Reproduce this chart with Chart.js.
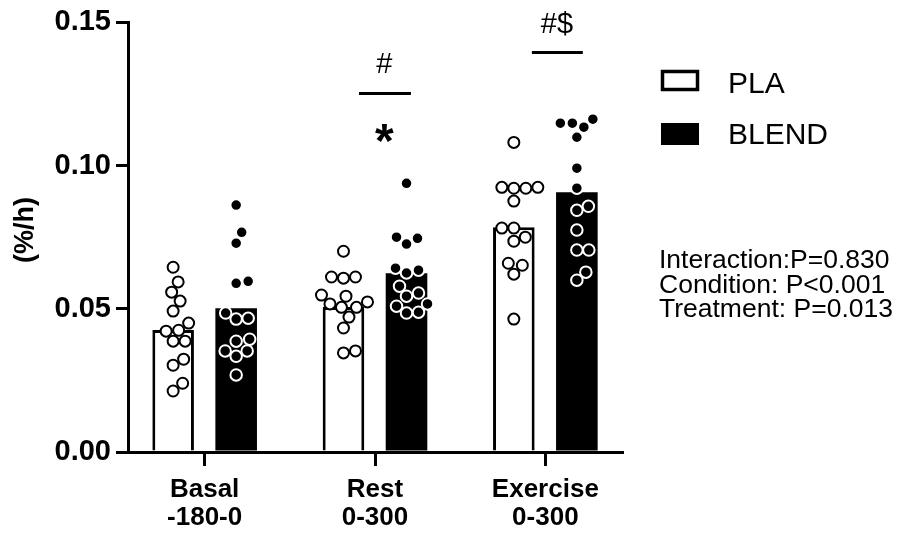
<!DOCTYPE html>
<html>
<head>
<meta charset="utf-8">
<script src="https://cdn.jsdelivr.net/npm/chart.js@4.4.0/dist/chart.umd.min.js"></script>
<style>
    html, body { margin: 0; padding: 0; background: #ffffff; }
    #wrap { width: 904px; height: 533px; position: relative; }
</style>
</head>
<body>
<div id="wrap"><canvas id="rateChart"></canvas></div>
<script>

// ======================================================
// Data
// ======================================================

const categories = [["Basal", "-180-0"], ["Rest", "0-300"], ["Exercise", "0-300"]];

const seriesNames = ["PLA", "BLEND"];

const plaMeans = [0.0426, 0.0506, 0.0785];
const blendMeans = [0.0502, 0.0624, 0.0907];

const plaBasal = [0.0645, 0.0594, 0.0558, 0.0527, 0.0492, 0.0450, 0.0422, 0.0425, 0.0387, 0.0387, 0.0303, 0.0324, 0.0213, 0.0240];
const plaRest = [0.0701, 0.0611, 0.0607, 0.0611, 0.0544, 0.0548, 0.0524, 0.0517, 0.0505, 0.0505, 0.0471, 0.0433, 0.0346, 0.0353];
const plaExercise = [0.1081, 0.0921, 0.0924, 0.0921, 0.0924, 0.0876, 0.0782, 0.0782, 0.0736, 0.0750, 0.0659, 0.0621, 0.0652, 0.0464];

const blendBasal = [0.0862, 0.0767, 0.0729, 0.0589, 0.0596, 0.0485, 0.0464, 0.0467, 0.0387, 0.0394, 0.0353, 0.0334, 0.0353, 0.0269];
const blendRest = [0.0938, 0.0750, 0.0746, 0.0726, 0.0625, 0.0635, 0.0642, 0.0579, 0.0555, 0.0544, 0.0517, 0.0509, 0.0485, 0.0488];
const blendExercise = [0.1162, 0.1134, 0.1148, 0.1148, 0.1099, 0.0991, 0.0921, 0.0858, 0.0844, 0.0775, 0.0705, 0.0705, 0.0628, 0.0600];

const yTickLabels = ["0.00", "0.05", "0.10", "0.15"];

const statsLines = ["Interaction:P=0.830", "Condition: P<0.001", "Treatment: P=0.013"];

const plaGroups = [plaBasal, plaRest, plaExercise];
const blendGroups = [blendBasal, blendRest, blendExercise];


// ======================================================
// Helpers
// ======================================================

const FONT = "'Liberation Sans', Arial, sans-serif";
const DOT_SPACING = 12;

// simple beeswarm: place each point at the smallest horizontal
// offset where it does not collide with points already placed
function swarmOffsets(pixelYs, spacing) {

    const order = pixelYs.map((y, i) => i).sort((a, b) => pixelYs[b] - pixelYs[a]);
    const placed = [];
    const offsets = new Array(pixelYs.length).fill(0);

    order.forEach((i) => {

        const y = pixelYs[i];
        let found = null;

        for (let step = 0; step < 400 && found === null; step++) {

            const tries = step === 0 ? [0] : [step * 0.5, -step * 0.5];

            for (const dx of tries) {
                if (placed.every((p) => Math.hypot(p.x - dx, p.y - y) >= spacing)) {
                    found = dx;
                    break;
                }
            }
        }

        offsets[i] = found;
        placed.push({ x: found, y: y });
    });

    return offsets;
}

function groupPoints(groups) {
    const pts = [];
    groups.forEach((values, g) => values.forEach((v) => pts.push({ x: g, y: v })));
    return pts;
}

function drawCentredText(ctx, text, cx, cy) {
    const m = ctx.measureText(text);
    ctx.fillText(text, cx, cy + (m.actualBoundingBoxAscent - m.actualBoundingBoxDescent) / 2);
}


// ======================================================
// Plugins: annotations, legend, stats text, y title
// ======================================================

const decorPlugin = {

    id: "decor",

    afterDatasetsDraw(chart, args, opts) {

        const { ctx, scales: { x, y } } = chart;

        ctx.save();
        ctx.fillStyle = "#000";
        ctx.strokeStyle = "#000";
        ctx.textAlign = "center";
        ctx.textBaseline = "alphabetic";

        opts.marks.forEach((m) => {

            ctx.lineWidth = 3;
            ctx.beginPath();
            ctx.moveTo(x.getPixelForValue(m.x1), y.getPixelForValue(m.lineY));
            ctx.lineTo(x.getPixelForValue(m.x2), y.getPixelForValue(m.lineY));
            ctx.stroke();

            ctx.font = "29px " + FONT;
            drawCentredText(ctx, m.above, x.getPixelForValue(m.textX), y.getPixelForValue(m.aboveY));

            if (m.below) {
                ctx.font = "bold 48px " + FONT;
                drawCentredText(ctx, m.below, x.getPixelForValue(m.textX), y.getPixelForValue(m.belowY));
            }
        });

        ctx.restore();
    },

    afterDraw(chart) {

        const ctx = chart.ctx;

        ctx.save();

        // y title
        ctx.translate(26, 230);
        ctx.rotate(-Math.PI / 2);
        ctx.fillStyle = "#000";
        ctx.font = "bold 27px " + FONT;
        ctx.textAlign = "center";
        drawCentredText(ctx, "(%/h)", 0, 0);
        ctx.setTransform(1, 0, 0, 1, 0, 0);

        // legend
        ctx.lineWidth = 3.5;
        ctx.strokeStyle = "#000";
        ctx.fillStyle = "#fff";
        ctx.fillRect(662.5, 71.5, 35, 18);
        ctx.strokeRect(662.5, 71.5, 35, 18);
        ctx.fillStyle = "#000";
        ctx.fillRect(661, 123, 38, 22);

        ctx.font = "30px " + FONT;
        ctx.textAlign = "left";
        drawCentredText(ctx, seriesNames[0], 728, 83);
        drawCentredText(ctx, seriesNames[1], 728, 134);

        // statistics
        ctx.font = "26.5px " + FONT;
        statsLines.forEach((line, i) => drawCentredText(ctx, line, 659, 258 + i * 25));

        ctx.restore();
    }
};


// ======================================================
// Chart
// ======================================================

const ctx = document.getElementById("rateChart").getContext("2d");

const axisGrid = {
    drawOnChartArea: false,
    drawTicks: true,
    color: "#000",
    lineWidth: 3,
    offset: false
};

const rateChart = new Chart(ctx, {

    type: "bar",

    data: {

        datasets: [

            {
                type: "scatter",
                label: "PLA points",
                data: groupPoints(plaGroups),
                order: 0,
                pointRadius: 5.5,
                pointBorderWidth: 2,
                pointBackgroundColor: "#ffffff",
                pointBorderColor: "#000000"
            },

            {
                type: "scatter",
                label: "BLEND points",
                data: groupPoints(blendGroups),
                order: 0,
                pointRadius: 5.75,
                pointBorderWidth: 2,
                pointBackgroundColor: "#000000",
                pointBorderColor: "#ffffff"
            },

            {
                type: "bar",
                label: seriesNames[0],
                data: plaMeans.map((v, i) => ({ x: i, y: v })),
                order: 1,
                backgroundColor: "#ffffff",
                borderColor: "#000000",
                borderWidth: 3,
                categoryPercentage: 0.74,
                barPercentage: 0.66
            },

            {
                type: "bar",
                label: seriesNames[1],
                data: blendMeans.map((v, i) => ({ x: i, y: v })),
                order: 1,
                backgroundColor: "#000000",
                borderWidth: 0,
                categoryPercentage: 0.74,
                barPercentage: 0.66
            }

        ]

    },

    options: {

        responsive: true,
        maintainAspectRatio: false,
        animation: false,
        events: [],

        layout: {
            padding: { left: 0, right: 282, top: 22, bottom: 0 }
        },

        plugins: {
            legend: { display: false },
            tooltip: { enabled: false },
            decor: {
                marks: [
                    { x1: 0.906, x2: 1.211, lineY: 0.1252, textX: 1.055, above: "#", aboveY: 0.1357, below: "*", belowY: 0.1113 },
                    { x1: 1.921, x2: 2.220, lineY: 0.1395, textX: 2.068, above: "#$", aboveY: 0.1497 }
                ]
            }
        },

        scales: {

            x: {
                type: "linear",
                min: -0.45,
                max: 2.45,
                offset: false,
                afterBuildTicks: (axis) => {
                    axis.ticks = categories.map((c, i) => ({ value: i }));
                },
                afterFit: (axis) => {
                    axis.height = 81;
                },
                ticks: {
                    callback: (value, index) => categories[index],
                    autoSkip: false,
                    maxRotation: 0,
                    color: "#000",
                    padding: 10,
                    font: { family: FONT, size: 26, weight: "bold", lineHeight: 1.08 }
                },
                grid: Object.assign({}, axisGrid, { tickLength: 14 }),
                border: { display: true, color: "#000", width: 3 }
            },

            y: {
                min: 0,
                max: 0.15,
                afterFit: (axis) => {
                    axis.width = 128;
                },
                ticks: {
                    stepSize: 0.05,
                    callback: (value, index) => yTickLabels[index],
                    color: "#000",
                    padding: 5,
                    font: { family: FONT, size: 29, weight: "bold" }
                },
                grid: Object.assign({}, axisGrid, { tickLength: 12 }),
                border: { display: true, color: "#000", width: 3 }
            }

        }

    },

    plugins: [decorPlugin]

});


// ======================================================
// Spread the dots around each bar centre
// ======================================================

function layoutSwarm(chart) {

    const xScale = chart.scales.x;
    const yScale = chart.scales.y;
    const pxPerUnit = xScale.getPixelForValue(1) - xScale.getPixelForValue(0);

    [[0, 2, plaGroups], [1, 3, blendGroups]].forEach(([pointIdx, barIdx, groups]) => {

        const barMeta = chart.getDatasetMeta(barIdx);
        const pts = [];

        groups.forEach((values, g) => {

            const centre = xScale.getValueForPixel(barMeta.data[g].x);
            const offsets = swarmOffsets(values.map((v) => yScale.getPixelForValue(v)), DOT_SPACING);

            values.forEach((v, k) => pts.push({ x: centre + offsets[k] / pxPerUnit, y: v }));
        });

        chart.data.datasets[pointIdx].data = pts;
    });

    chart.update();
}

layoutSwarm(rateChart);

</script>
</body>
</html>
